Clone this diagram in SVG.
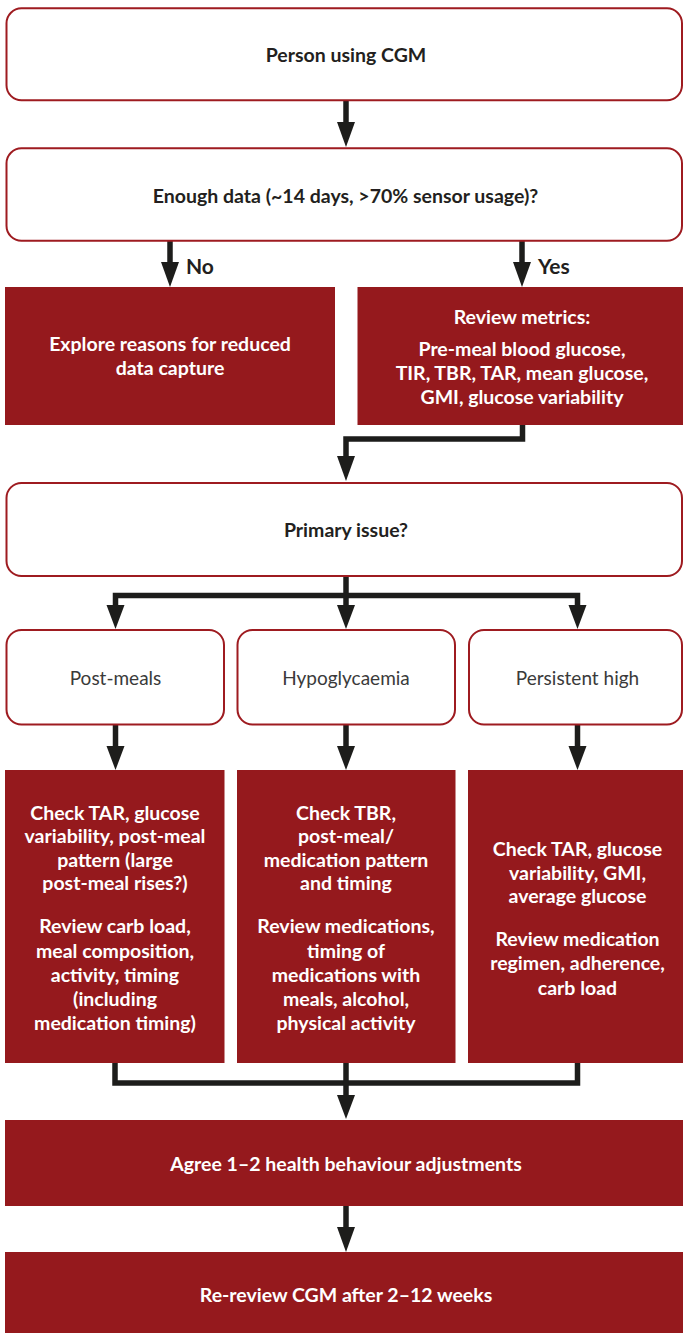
<svg xmlns="http://www.w3.org/2000/svg" width="683" height="1333" viewBox="0 0 683 1333">
<defs>
<style>
.wbox{fill:#ffffff;stroke:#9e1b20;stroke-width:2}
.rbox{fill:#95191d}
.t{font-family:Lato,"Liberation Sans",sans-serif;font-size:19.5px;text-anchor:middle}
.b{font-weight:bold}
.dk{fill:#231f20}
.wt{fill:#ffffff}
.reg{fill:#3a3a3a;font-weight:normal;font-size:19px}
.lbl{font-family:Lato,"Liberation Sans",sans-serif;font-size:21px;font-weight:bold;fill:#231f20}
.ln{fill:none;stroke:#1d1d1b;stroke-width:5.5;stroke-linejoin:miter}
.hd{fill:#1d1d1b}
</style>
</defs>
<g id="connectors">
<path class="ln" d="M346,101 V124"/>
<polygon class="hd" points="337,122 355,122 346,147"/>
<path class="ln" d="M170,241 V264"/>
<polygon class="hd" points="161,262 179,262 170,287"/>
<path class="ln" d="M522,241 V264"/>
<polygon class="hd" points="513,262 531,262 522,287"/>
<path class="ln" d="M522.5,425 V439 H346 V458"/>
<polygon class="hd" points="337,456 355,456 346,481"/>
<path class="ln" d="M346,577 V607"/>
<path class="ln" d="M115.5,607 V595.5 H577.5 V607"/>
<polygon class="hd" points="106.5,605 124.5,605 115.5,629"/>
<polygon class="hd" points="337,605 355,605 346,629"/>
<polygon class="hd" points="568.5,605 586.5,605 577.5,629"/>
<path class="ln" d="M115.5,725 V748"/>
<path class="ln" d="M346,725 V748"/>
<path class="ln" d="M577.5,725 V748"/>
<polygon class="hd" points="106.5,746 124.5,746 115.5,770"/>
<polygon class="hd" points="337,746 355,746 346,770"/>
<polygon class="hd" points="568.5,746 586.5,746 577.5,770"/>
<path class="ln" d="M115,1063 V1083 H577.5 V1063"/>
<path class="ln" d="M346,1063 V1097"/>
<polygon class="hd" points="337,1095 355,1095 346,1119"/>
<path class="ln" d="M346,1206 V1229"/>
<polygon class="hd" points="337,1227 355,1227 346,1252"/>
</g>
<g id="n1">
<rect class="wbox" x="6.5" y="8.3" width="675.5" height="92" rx="15"/>
<text class="t b dk" x="346" y="62">Person using CGM</text>
</g>
<g id="n2">
<rect class="wbox" x="6.5" y="148.3" width="675.5" height="92.5" rx="15"/>
<text class="t b dk" x="345.5" y="203">Enough data (~14 days, &gt;70% sensor usage)?</text>
</g>
<g id="lblNo"><text class="lbl" x="186" y="274">No</text></g>
<g id="lblYes"><text class="lbl" x="538" y="274">Yes</text></g>
<g id="n3">
<rect class="rbox" x="5" y="287" width="330" height="138"/>
<text class="t b wt" x="170" y="351">Explore reasons for reduced</text>
<text class="t b wt" x="170" y="375">data capture</text>
</g>
<g id="n4">
<rect class="rbox" x="357.5" y="287" width="325.5" height="138"/>
<text class="t b wt" x="522" y="324">Review metrics:</text>
<text class="t b wt" x="522" y="356">Pre-meal blood glucose,</text>
<text class="t b wt" x="522" y="380">TIR, TBR, TAR, mean glucose,</text>
<text class="t b wt" x="522" y="404">GMI, glucose variability</text>
</g>
<g id="n5">
<rect class="wbox" x="6.5" y="483" width="675.5" height="93" rx="15"/>
<text class="t b dk" x="346" y="537">Primary issue?</text>
</g>
<g id="n6">
<rect class="wbox" x="6.5" y="630" width="217.5" height="94.5" rx="15"/>
<text class="t reg" x="115.5" y="685">Post-meals</text>
</g>
<g id="n7">
<rect class="wbox" x="237.5" y="630" width="217.5" height="94.5" rx="15"/>
<text class="t reg" x="346" y="685">Hypoglycaemia</text>
</g>
<g id="n8">
<rect class="wbox" x="469" y="630" width="213" height="94.5" rx="15"/>
<text class="t reg" x="577.5" y="685">Persistent high</text>
</g>
<g id="n9">
<rect class="rbox" x="5" y="770" width="219.5" height="293"/>
<text class="t b wt" x="115" y="820">Check TAR, glucose</text>
<text class="t b wt" x="115" y="843">variability, post-meal</text>
<text class="t b wt" x="115" y="867">pattern (large</text>
<text class="t b wt" x="115" y="890">post-meal rises?)</text>
<text class="t b wt" x="115" y="933">Review carb load,</text>
<text class="t b wt" x="115" y="958">meal composition,</text>
<text class="t b wt" x="115" y="982">activity, timing</text>
<text class="t b wt" x="115" y="1006">(including</text>
<text class="t b wt" x="115" y="1030">medication timing)</text>
</g>
<g id="n10">
<rect class="rbox" x="237" y="770" width="218.5" height="293"/>
<text class="t b wt" x="346" y="820">Check TBR,</text>
<text class="t b wt" x="346" y="843">post-meal/</text>
<text class="t b wt" x="346" y="867">medication pattern</text>
<text class="t b wt" x="346" y="890">and timing</text>
<text class="t b wt" x="346" y="933">Review medications,</text>
<text class="t b wt" x="346" y="958">timing of</text>
<text class="t b wt" x="346" y="982">medications with</text>
<text class="t b wt" x="346" y="1006">meals, alcohol,</text>
<text class="t b wt" x="346" y="1030">physical activity</text>
</g>
<g id="n11">
<rect class="rbox" x="468" y="770" width="215" height="293"/>
<text class="t b wt" x="577.5" y="856">Check TAR, glucose</text>
<text class="t b wt" x="577.5" y="880">variability, GMI,</text>
<text class="t b wt" x="577.5" y="903">average glucose</text>
<text class="t b wt" x="577.5" y="946">Review medication</text>
<text class="t b wt" x="577.5" y="970">regimen, adherence,</text>
<text class="t b wt" x="577.5" y="995">carb load</text>
</g>
<g id="n12">
<rect class="rbox" x="5" y="1120" width="678" height="86"/>
<text class="t b wt" x="346" y="1171">Agree 1–2 health behaviour adjustments</text>
</g>
<g id="n13">
<rect class="rbox" x="5" y="1252" width="678" height="81"/>
<text class="t b wt" x="346" y="1302">Re-review CGM after 2–12 weeks</text>
</g>
</svg>
